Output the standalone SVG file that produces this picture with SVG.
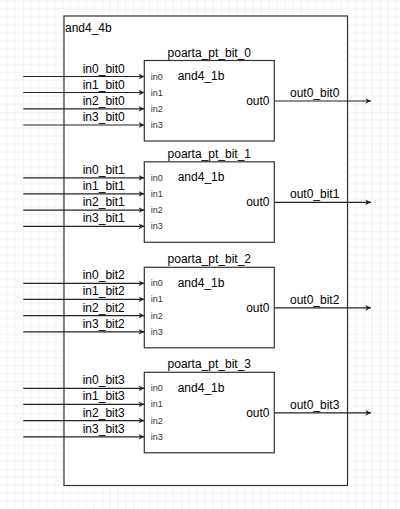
<svg xmlns="http://www.w3.org/2000/svg" width="400" height="509" viewBox="0 0 400 509">
<style>
text{font-family:"Liberation Sans",Arial,sans-serif;fill:#000}
.lbl{font-size:12px}
.port{font-size:9px;fill:#333}
.box{fill:#fff;stroke:#333;stroke-width:1.2}
.wire{stroke:#222;stroke-width:1.2;fill:none;marker-end:url(#arr)}
</style>
<defs>
<marker id="arr" viewBox="0 0 8 8" refX="7" refY="4" markerWidth="6.5" markerHeight="6.5" markerUnits="userSpaceOnUse" orient="auto">
<path d="M0,0.5 L7,4 L0,7.5 L2,4 Z" fill="#222"/>
</marker>
<pattern id="grid" patternUnits="userSpaceOnUse" x="22.7" y="32.6" width="39.7" height="39.7">
<path d="M7.94,0V39.7M15.88,0V39.7M23.82,0V39.7M31.76,0V39.7M0,7.94H39.7M0,15.88H39.7M0,23.82H39.7M0,31.76H39.7" stroke="#f1f1f1" stroke-width="1"/>
<path d="M0,0V39.7M0,0H39.7" stroke="#e6e6e6" stroke-width="1"/>
</pattern>
</defs>
<rect x="0" y="0" width="400" height="509" fill="#fff"/>
<rect x="0" y="0" width="400" height="509" fill="url(#grid)"/>

<g id="and4_4b">
<rect class="box" x="64" y="16" width="283.5" height="469.5" stroke-width="1.4"/>
<text class="lbl" x="65" y="32.3">and4_4b</text>
</g>

<g id="poarta_pt_bit_0">
<rect class="box" x="144.3" y="60.5" width="130" height="80.5"/>
<text class="lbl" x="209.3" y="56.5" text-anchor="middle">poarta_pt_bit_0</text>
<text class="lbl" x="177.7" y="80">and4_1b</text>
<text class="port" x="150.7" y="79.5">in0</text>
<text class="port" x="150.7" y="95.5">in1</text>
<text class="port" x="150.7" y="111.8">in2</text>
<text class="port" x="150.7" y="128">in3</text>
<text class="lbl" x="269.5" y="105" text-anchor="end">out0</text>
</g>

<g id="poarta_pt_bit_1">
<rect class="box" x="144.3" y="161.8" width="130" height="80.5"/>
<text class="lbl" x="209.3" y="157.8" text-anchor="middle">poarta_pt_bit_1</text>
<text class="lbl" x="177.7" y="181.3">and4_1b</text>
<text class="port" x="150.7" y="180.8">in0</text>
<text class="port" x="150.7" y="196.8">in1</text>
<text class="port" x="150.7" y="213.1">in2</text>
<text class="port" x="150.7" y="229.3">in3</text>
<text class="lbl" x="269.5" y="206.3" text-anchor="end">out0</text>
</g>

<g id="poarta_pt_bit_2">
<rect class="box" x="144.3" y="267.3" width="130" height="80.5"/>
<text class="lbl" x="209.3" y="263.3" text-anchor="middle">poarta_pt_bit_2</text>
<text class="lbl" x="177.7" y="286.8">and4_1b</text>
<text class="port" x="150.7" y="286.3">in0</text>
<text class="port" x="150.7" y="302.3">in1</text>
<text class="port" x="150.7" y="318.6">in2</text>
<text class="port" x="150.7" y="334.8">in3</text>
<text class="lbl" x="269.5" y="311.8" text-anchor="end">out0</text>
</g>

<g id="poarta_pt_bit_3">
<rect class="box" x="144.3" y="372.3" width="130" height="80.5"/>
<text class="lbl" x="209.3" y="368.3" text-anchor="middle">poarta_pt_bit_3</text>
<text class="lbl" x="177.7" y="391.8">and4_1b</text>
<text class="port" x="150.7" y="391.3">in0</text>
<text class="port" x="150.7" y="407.3">in1</text>
<text class="port" x="150.7" y="423.6">in2</text>
<text class="port" x="150.7" y="439.8">in3</text>
<text class="lbl" x="269.5" y="416.8" text-anchor="end">out0</text>
</g>

<g id="connectors">
<path class="wire" d="M23.3,76.5H144.3"/>
<path class="wire" d="M23.3,92.5H144.3"/>
<path class="wire" d="M23.3,108.8H144.3"/>
<path class="wire" d="M23.3,125H144.3"/>
<path class="wire" d="M274.3,101H371"/>
<text class="lbl" x="82.7" y="72.5">in0_bit0</text>
<text class="lbl" x="82.7" y="88.5">in1_bit0</text>
<text class="lbl" x="82.7" y="104.8">in2_bit0</text>
<text class="lbl" x="82.7" y="121">in3_bit0</text>
<text class="lbl" x="290" y="96.7">out0_bit0</text>

<path class="wire" d="M23.3,177.8H144.3"/>
<path class="wire" d="M23.3,193.8H144.3"/>
<path class="wire" d="M23.3,210.1H144.3"/>
<path class="wire" d="M23.3,226.3H144.3"/>
<path class="wire" d="M274.3,202.3H371"/>
<text class="lbl" x="82.7" y="173.8">in0_bit1</text>
<text class="lbl" x="82.7" y="189.8">in1_bit1</text>
<text class="lbl" x="82.7" y="206.1">in2_bit1</text>
<text class="lbl" x="82.7" y="222.3">in3_bit1</text>
<text class="lbl" x="290" y="198">out0_bit1</text>

<path class="wire" d="M23.3,283.3H144.3"/>
<path class="wire" d="M23.3,299.3H144.3"/>
<path class="wire" d="M23.3,315.6H144.3"/>
<path class="wire" d="M23.3,331.8H144.3"/>
<path class="wire" d="M274.3,307.8H371"/>
<text class="lbl" x="82.7" y="279.3">in0_bit2</text>
<text class="lbl" x="82.7" y="295.3">in1_bit2</text>
<text class="lbl" x="82.7" y="311.6">in2_bit2</text>
<text class="lbl" x="82.7" y="327.8">in3_bit2</text>
<text class="lbl" x="290" y="303.5">out0_bit2</text>

<path class="wire" d="M23.3,388.3H144.3"/>
<path class="wire" d="M23.3,404.3H144.3"/>
<path class="wire" d="M23.3,420.6H144.3"/>
<path class="wire" d="M23.3,436.8H144.3"/>
<path class="wire" d="M274.3,412.8H371"/>
<text class="lbl" x="82.7" y="384.3">in0_bit3</text>
<text class="lbl" x="82.7" y="400.3">in1_bit3</text>
<text class="lbl" x="82.7" y="416.6">in2_bit3</text>
<text class="lbl" x="82.7" y="432.8">in3_bit3</text>
<text class="lbl" x="290" y="408.5">out0_bit3</text>
</g>
</svg>
